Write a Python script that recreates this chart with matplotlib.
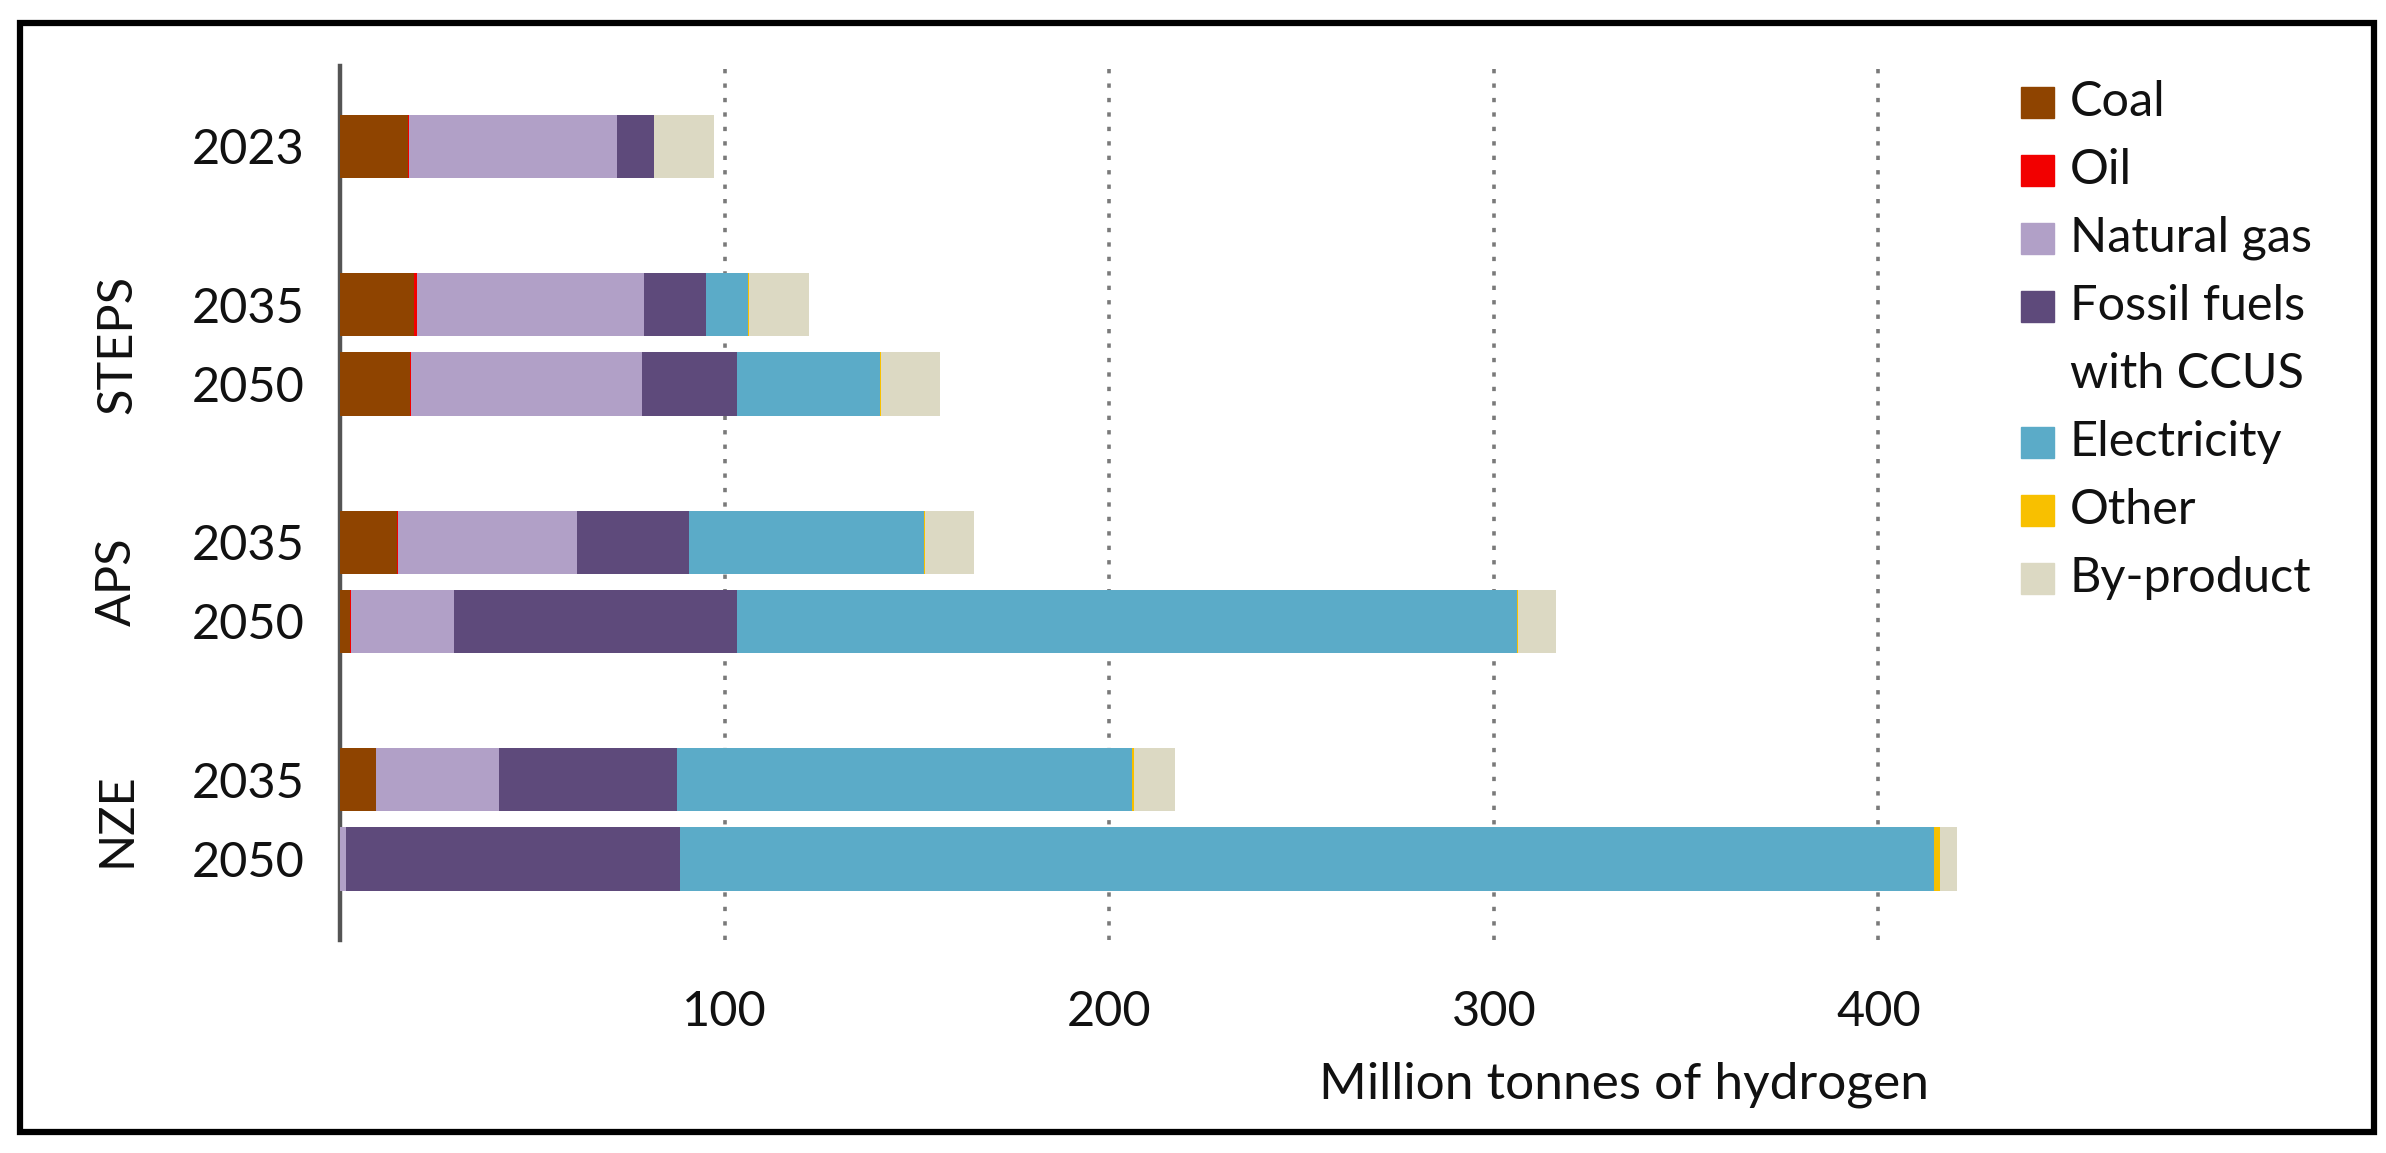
import matplotlib.pyplot as plt
import matplotlib.transforms as mtransforms
from matplotlib.patches import Rectangle
import numpy as np

plt.rcParams['font.family'] = ['Lato', 'DejaVu Sans']

# rows from top to bottom
years = ['2023', '2035', '2050', '2035', '2050', '2035', '2050']
row_pos = [0, 2, 3, 5, 6, 8, 9]
groups = ['STEPS', 'APS', 'NZE']
group_pos = [2.5, 5.5, 8.5]

sources = ['Coal', 'Oil', 'Natural gas', 'Fossil fuels\nwith CCUS', 'Electricity', 'Other', 'By-product']
colors = ['#8F4400', '#F20000', '#B1A0C7', '#5E4A7B', '#5BABC8', '#F8C000', '#DCD9C3']

coal = [17.5, 19.3, 18.2, 14.8, 2.6, 9.2, 0.0]
oil = [0.5, 0.6, 0.3, 0.3, 0.2, 0.2, 0.0]
natural_gas = [53.9, 59.2, 60.0, 46.5, 26.7, 32.0, 1.5]
fossil_ccus = [9.6, 16.0, 24.7, 29.0, 73.7, 46.3, 86.8]
electricity = [0.0, 10.9, 37.1, 61.2, 202.9, 118.1, 326.1]
other = [0.0, 0.2, 0.2, 0.2, 0.3, 0.5, 1.5]
by_product = [15.6, 15.8, 15.5, 12.9, 9.8, 10.8, 4.5]

ticks = [100, 200, 300, 400]

series = [coal, oil, natural_gas, fossil_ccus, electricity, other, by_product]

fig = plt.figure(figsize=(23.86, 11.53), dpi=100)
ax = fig.add_axes([0.1426, 0.185, 0.693, 0.758])

left = np.zeros(len(years))
for vals, col in zip(series, colors):
    ax.barh(row_pos, vals, left=left, height=0.8, color=col, linewidth=0, zorder=3)
    left += np.array(vals)

ax.set_xlim(0, 430)
ax.set_ylim(10.02, -1.02)
ax.set_xticks(ticks)
ax.set_xticklabels([str(t) for t in ticks])
ax.set_yticks(row_pos)
ax.set_yticklabels(years)
ax.tick_params(axis='x', length=0, pad=36, labelsize=35, colors='#111111')
ax.tick_params(axis='y', length=0, pad=26, labelsize=35, colors='#111111')

for s in ['top', 'right', 'bottom']:
    ax.spines[s].set_visible(False)
ax.spines['left'].set_color('#555555')
ax.spines['left'].set_linewidth(3.2)

ax.grid(axis='x', color='#7a7a7a', linestyle=(0, (1.2, 2.8)), linewidth=2.6, zorder=0)

# scenario labels
trans = mtransforms.blended_transform_factory(fig.transFigure, ax.transData)
for g, p in zip(groups, group_pos):
    ax.text(0.049, p, g, transform=trans, rotation=90, ha='center', va='center',
            fontsize=35, color='#111111')

fig.text(0.6805, 0.047, 'Million tonnes of hydrogen', ha='center', va='baseline',
         fontsize=37, color='#111111')

# legend drawn by hand so the square sits on the first line
line = 0
for name, col in zip(sources, colors):
    base = 1 - (116 + 68 * line) / 1153
    fig.patches.append(Rectangle((2021 / 2386, base - 0.0015), 33 / 2386, 31 / 1153,
                                 transform=fig.transFigure, color=col))
    for part in name.split('\n'):
        base = 1 - (116 + 68 * line) / 1153
        fig.text(2070 / 2386, base, part, ha='left', va='baseline', fontsize=35, color='#111111')
        line += 1

# outer frame
fig.patches.append(Rectangle((0.0084, 0.018), 0.9866, 0.962, transform=fig.transFigure,
                             fill=False, edgecolor='black', linewidth=4.5))

fig.savefig('out.png', dpi=100)
